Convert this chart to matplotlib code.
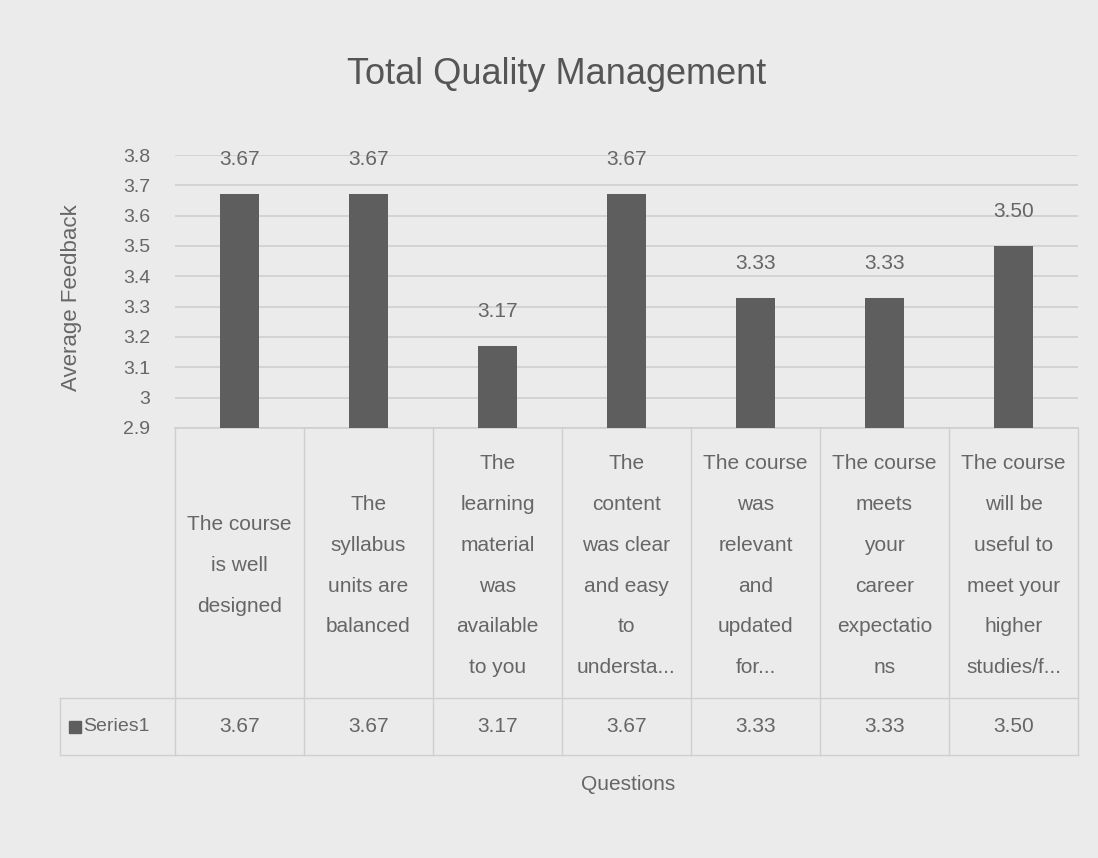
#Bar chart with an Excel-style data table underneath
import numpy as np
import matplotlib.pyplot as plt
from matplotlib.transforms import blended_transform_factory

#data
questions = [
    "The course\nis well\ndesigned",
    "The\nsyllabus\nunits are\nbalanced",
    "The\nlearning\nmaterial\nwas\navailable\nto you",
    "The\ncontent\nwas clear\nand easy\nto\nundersta...",
    "The course\nwas\nrelevant\nand\nupdated\nfor...",
    "The course\nmeets\nyour\ncareer\nexpectatio\nns",
    "The course\nwill be\nuseful to\nmeet your\nhigher\nstudies/f...",
]
feedback = [3.67, 3.67, 3.17, 3.67, 3.33, 3.33, 3.50]
y_ticks = [2.9, 3.0, 3.1, 3.2, 3.3, 3.4, 3.5, 3.6, 3.7, 3.8]

plt.rcParams['font.family'] = ['Liberation Sans Narrow', 'Liberation Sans', 'DejaVu Sans']

bg = '#ebebeb'
bar_col = '#5e5e5e'
txt_col = '#666666'
line_col = '#cfcfcf'

fig = plt.figure(figsize=(10.98, 8.58), dpi=100, facecolor=bg)
W, H = 1098, 858
left, right, top, bottom = 175, 1078, 155, 428
ax = fig.add_axes([left / W, 1 - bottom / H, (right - left) / W, (bottom - top) / H])
ax.set_facecolor(bg)

x = np.arange(len(questions))
bars = ax.bar(x, feedback, width=0.31, color=bar_col, bottom=0, zorder=3)
ax.set_xlim(-0.5, len(questions) - 0.5)
ax.set_ylim(2.9, 3.8)

#gridlines
ax.set_yticks(y_ticks)
ax.set_yticklabels(['{:g}'.format(v) for v in y_ticks], fontsize=14, color=txt_col)
ax.tick_params(axis='y', length=0, pad=18)
ax.set_xticks([])
ax.grid(axis='y', color=line_col, lw=1.2, zorder=0)
for s in ax.spines.values():
    s.set_visible(False)

#value labels above bars
for b, v in zip(bars, feedback):
    ax.annotate('{:.2f}'.format(v), (b.get_x() + b.get_width() / 2, v),
                xytext=(0, 18), textcoords='offset points', ha='center', va='bottom',
                fontsize=15, color=txt_col)

#data table below the axes
tr = blended_transform_factory(ax.transData, ax.transAxes)
row1 = -0.989
row2 = -1.198
label_left = -0.5 - 115 / 129
for xb in np.arange(-0.5, len(questions), 1.0):
    ax.plot([xb, xb], [0, row2], color=line_col, lw=1, transform=tr, clip_on=False)
ax.plot([-0.5, len(questions) - 0.5], [0, 0], color=line_col, lw=1.2, transform=tr, clip_on=False)
for yy in (row1, row2):
    ax.plot([label_left, len(questions) - 0.5], [yy, yy], color=line_col, lw=1,
            transform=tr, clip_on=False)
ax.plot([label_left, label_left], [row1, row2], color=line_col, lw=1, transform=tr, clip_on=False)

for xi, q, v in zip(x, questions, feedback):
    ax.text(xi, row1 / 2 - 0.01, q, transform=tr, ha='center', va='center',
            fontsize=15, color=txt_col, linespacing=2.45)
    ax.text(xi, (row1 + row2) / 2, '{:.2f}'.format(v), transform=tr, ha='center',
            va='center', fontsize=15, color=txt_col)

ax.plot([-0.5 - 100 / 129], [(row1 + row2) / 2], marker='s', ms=8, color=bar_col,
        transform=tr, clip_on=False)
ax.text(-0.5 - 92 / 129, (row1 + row2) / 2, 'Series1', transform=tr, ha='left',
        va='center', fontsize=14, color=txt_col)

#title and axis labels
fig.text(557 / W, 1 - 75 / H, 'Total Quality Management', ha='center', va='center',
         fontsize=26, color='#555555')
fig.text(72 / W, 1 - 298 / H, 'Average Feedback', ha='center', va='center',
         rotation=90, fontsize=16, color=txt_col)
fig.text(628 / W, 1 - 785 / H, 'Questions', ha='center', va='center',
         fontsize=15, color=txt_col)

fig.savefig('out.png', dpi=100, facecolor=bg)
